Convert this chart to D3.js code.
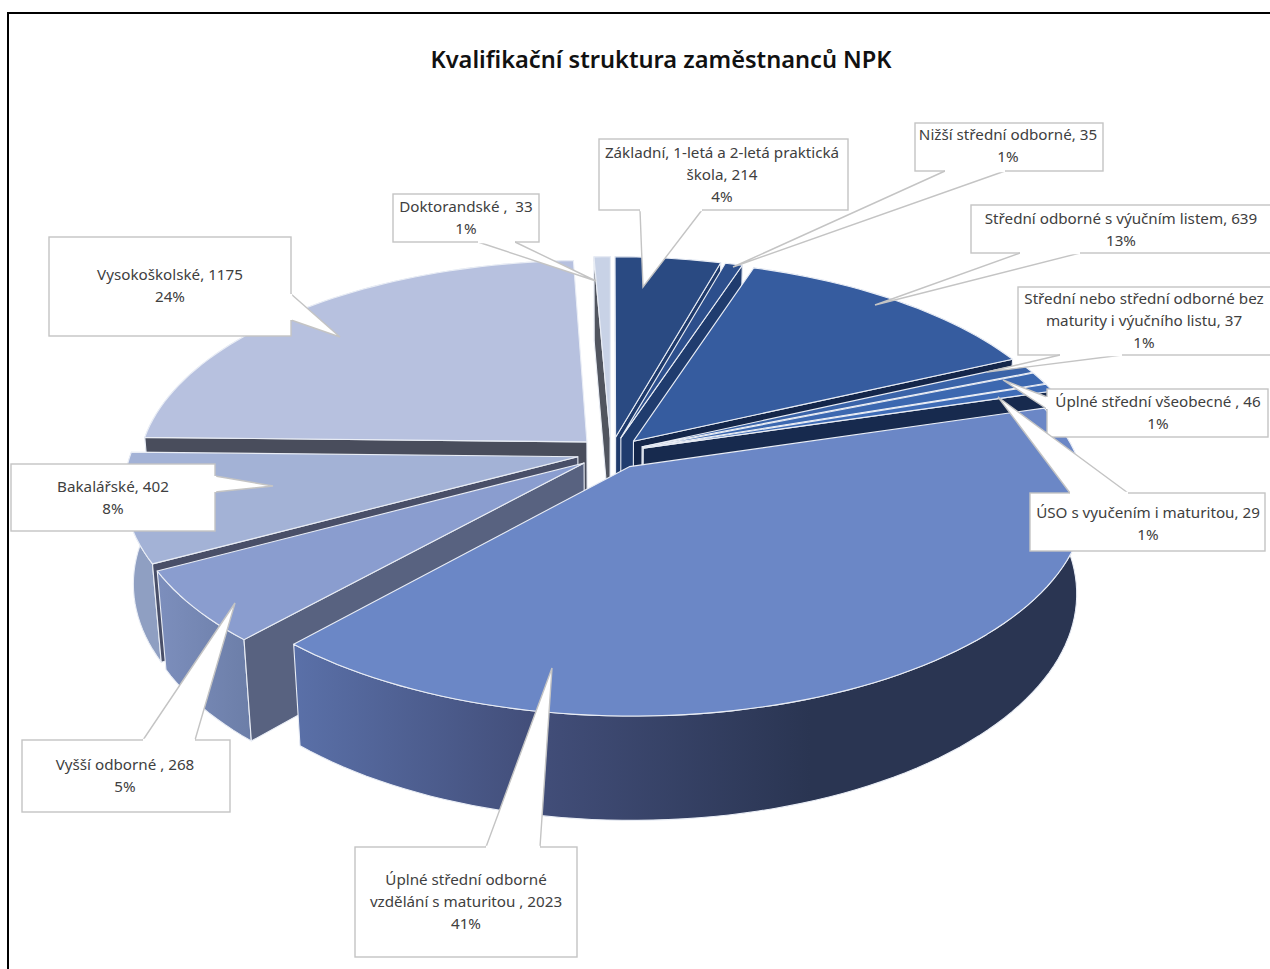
<!DOCTYPE html>
<html lang="cs">
<head>
<meta charset="utf-8">
<title>Kvalifikační struktura zaměstnanců NPK</title>
<script src="https://cdn.jsdelivr.net/npm/d3@7"></script>
<style>
  html, body { margin: 0; padding: 0; background: #fff; overflow: hidden; }
  svg { display: block; }
  .callout text { font-family: "Noto Sans", sans-serif; font-size: 15.2px; fill: #404040; text-anchor: middle; white-space: pre; }
</style>
</head>
<body>
<div id="chart"></div>
<script>
// clockwise from 12 o'clock, \n = where the label wraps
const names = [
  'Základní, 1-letá a 2-letá praktická\nškola, ',
  'Nižší střední odborné, ',
  'Střední odborné s výučním listem, ',
  'Střední nebo střední odborné bez\nmaturity i výučního listu, ',
  'Úplné střední všeobecné , ',
  'ÚSO s vyučením i maturitou, ',
  'Úplné střední odborné\nvzdělání s maturitou , ',
  'Vyšší odborné , ',
  'Bakalářské, ',
  'Vysokoškolské, ',
  'Doktorandské ,  ',
];
const values = [214, 35, 639, 37, 46, 29, 2023, 268, 402, 1175, 33];

const topColors = ['#2a4a82', '#2d4f8c', '#365c9f', '#3a63a8', '#3c68b0', '#3f6cb6', '#6b87c6', '#8a9dcf', '#a3b2d6', '#b7c1df', '#c8d2e6'];
const wallColors = ['#1f3a6b', '#203c6e', '#14264a', '#1c3562', '#1c3562', '#172a4e', '#2a3552', '#586280', '#494f68', '#494d5c', '#51555f'];
const sideColors = ['#1f3a6b', '#203c6e', '#27447a', '#2a4a82', '#2a4a82', '#2d4f88', 'url(#bigSide)', 'url(#vyssiSide)', '#8f9fc2', '#8f9bb8', '#9aa5bd'];

// box, wedge and text placement of each callout (same order as names)
const callouts = [
  { box: [599, 139, 848, 210], wedge: [[702, 210], [643, 287], [640, 210]], tx: 722, ty: 158 },
  { box: [915, 123, 1103, 171], wedge: [[1005, 171], [733, 267], [945, 171]], tx: 1008, ty: 140 },
  { box: [971, 205, 1290, 253], wedge: [[1080, 253], [875, 305], [1020, 253]], tx: 1121, ty: 224 },
  { box: [1018, 287, 1290, 355], wedge: [[1122, 355], [987, 372], [1060, 355]], tx: 1144, ty: 304 },
  { box: [1047, 389, 1268, 437], wedge: [[1047, 409], [1003, 380], [1047, 397]], tx: 1158, ty: 407 },
  { box: [1030, 493, 1265, 551], wedge: [[1128, 493], [998, 397], [1070, 493]], tx: 1148, ty: 518 },
  { box: [355, 847, 577, 957], wedge: [[540, 847], [552, 668], [486, 847]], tx: 466, ty: 885 },
  { box: [22, 740, 230, 812], wedge: [[195, 740], [235, 603], [143, 740]], tx: 125, ty: 770 },
  { box: [11, 464, 215, 531], wedge: [[215, 476], [273, 486], [215, 492]], tx: 113, ty: 492 },
  { box: [49, 237, 291, 336], wedge: [[291, 294], [340, 337], [291, 320]], tx: 170, ty: 280 },
  { box: [393, 194, 539, 242], wedge: [[515, 242], [596, 281], [478, 242]], tx: 466, ty: 212 },
];

const width = 1270;
const height = 969;
const cx = 611;
const cy = 453;
const radius = 447;
const explode = 34;
const depth = 108;
const sinTilt = 0.47;
const cosTilt = Math.sqrt(1 - sinTilt * sinTilt);
const camera = 2800;

const svg = d3.select('#chart').append('svg')
  .attr('width', width)
  .attr('height', height);

const defs = svg.append('defs');

function addGradient(id, x1, x2, stops) {
  const g = defs.append('linearGradient')
    .attr('id', id)
    .attr('gradientUnits', 'userSpaceOnUse')
    .attr('x1', x1).attr('x2', x2)
    .attr('y1', 0).attr('y2', 0);
  stops.forEach(([o, c]) => g.append('stop').attr('offset', o).attr('stop-color', c));
}
addGradient('bigSide', 295, 810, [[0, '#5a70a8'], [0.45, '#434f7b'], [1, '#2a3552']]);
addGradient('vyssiSide', 160, 250, [[0, '#7c8ebc'], [1, '#6c7ea8']]);

// world (x right, y towards viewer, z up) -> screen
function project([x, y, z]) {
  const yc = y * sinTilt - z * cosTilt;
  const d = y * cosTilt + z * sinTilt;
  const s = camera / (camera - d);
  return [cx + x * s, cy + yc * s];
}

const line = d3.line().curve(d3.curveLinearClosed);
const arcs = d3.pie().sort(null).startAngle(0).endAngle(2 * Math.PI)(values);

const slices = arcs.map((a, i) => {
  const mid = (a.startAngle + a.endAngle) / 2;
  const ox = Math.sin(mid) * explode;
  const oy = -Math.cos(mid) * explode;
  const rim = (t, z) => [ox + Math.sin(t) * radius, oy - Math.cos(t) * radius, z];
  const n = Math.max(2, Math.ceil((a.endAngle - a.startAngle) / 0.03));
  const ts = d3.range(n + 1).map((k) => a.startAngle + (a.endAngle - a.startAngle) * k / n);
  return { i, mid, oy, ox, rim, ts, a };
});

const group = svg.append('g').attr('class', 'pie');

function face(points, fill) {
  group.append('path')
    .attr('d', line(points))
    .attr('fill', fill)
    .attr('stroke', '#e9edf5')
    .attr('stroke-width', 1.1)
    .attr('stroke-linejoin', 'round');
}

// far slices first so nearer ones paint over them
d3.sort(slices, (s) => s.oy).forEach((s) => {
  const side = s.ts.map((t) => s.rim(t, 0)).concat(s.ts.slice().reverse().map((t) => s.rim(t, -depth)));
  face(side.map(project), sideColors[s.i]);

  const apexTop = [s.ox, s.oy, 0];
  const apexBot = [s.ox, s.oy, -depth];
  const walls = [
    [apexTop, s.rim(s.a.startAngle, 0), s.rim(s.a.startAngle, -depth), apexBot],
    [apexTop, apexBot, s.rim(s.a.endAngle, -depth), s.rim(s.a.endAngle, 0)],
  ];
  // only walls turned to the viewer
  walls.forEach((w) => {
    const pts = w.map(project);
    if (d3.polygonArea(pts) > 0) face(pts, wallColors[s.i]);
  });

  const top = [apexTop].concat(s.ts.map((t) => s.rim(t, 0)));
  face(top.map(project), topColors[s.i]);
});

const pct = d3.format('.0%');
const total = d3.sum(values);
const labels = svg.append('g').attr('class', 'callouts');

callouts.forEach((c, i) => {
  const g = labels.append('g').attr('class', 'callout');
  const [x0, y0, x1, y1] = c.box;
  g.append('rect')
    .attr('x', x0).attr('y', y0)
    .attr('width', x1 - x0).attr('height', y1 - y0)
    .attr('fill', '#fff')
    .attr('stroke', '#c4c4c4')
    .attr('stroke-width', 1.4);
  g.append('path')
    .attr('d', d3.line()(c.wedge))
    .attr('fill', '#fff')
    .attr('stroke', '#c4c4c4')
    .attr('stroke-width', 1.4);
  // open the box where the wedge leaves it
  g.append('path')
    .attr('d', d3.line()([c.wedge[0], c.wedge[2]]))
    .attr('stroke', '#fff')
    .attr('stroke-width', 2.4);

  const textLines = (names[i] + values[i]).split('\n').concat(pct(values[i] / total));
  g.selectAll('text')
    .data(textLines)
    .join('text')
    .attr('x', c.tx)
    .attr('y', (d, k) => c.ty + k * 22)
    .text((d) => d);
});

// the picture's own frame, only left and top are in view
svg.append('path')
  .attr('d', d3.line()([[8, height], [8, 13], [width, 13]]))
  .attr('fill', 'none')
  .attr('stroke', '#000')
  .attr('stroke-width', 2);

svg.append('text')
  .attr('x', 661)
  .attr('y', 68)
  .attr('text-anchor', 'middle')
  .attr('font-family', '"Noto Sans", sans-serif')
  .attr('font-weight', 600)
  .attr('font-size', 23.6)
  .attr('fill', '#111')
  .text('Kvalifikační struktura zaměstnanců NPK');
</script>
</body>
</html>
